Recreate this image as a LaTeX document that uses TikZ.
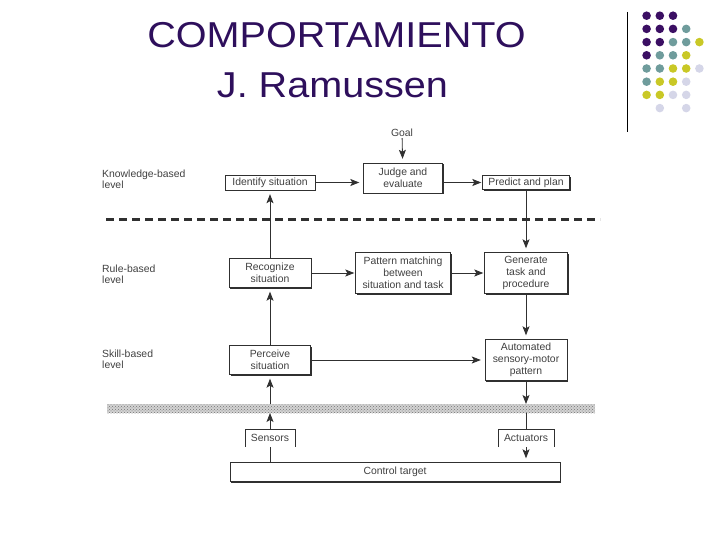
\documentclass[tikz,border=0pt]{standalone}
\usepackage{fontspec}
\setmainfont{Liberation Sans}
\usetikzlibrary{arrows.meta,shadows,patterns}

\definecolor{titlecol}{HTML}{2E0F5C}
\definecolor{dotP}{HTML}{3B0F63}
\definecolor{dotT}{HTML}{6F9C9C}
\definecolor{dotY}{HTML}{C9C826}
\definecolor{dotL}{HTML}{D5D6E8}
\definecolor{inkline}{HTML}{303030}
\definecolor{inktext}{HTML}{404040}

\tikzset{
  stage/.style={draw=inkline, fill=white, align=center, inner sep=1pt,
    text=inktext, font=\fontsize{10.4}{12}\selectfont,
    drop shadow={shadow xshift=1.3pt, shadow yshift=-1.3pt, fill=inkline, opacity=1}},
  openbox/.style={align=center, inner sep=1pt, text=inktext,
    font=\fontsize{10.4}{12}\selectfont},
  levellabel/.style={anchor=west, align=left, inner sep=0pt, text=inktext,
    font=\fontsize{10.4}{11}\selectfont},
  flow/.style={draw=inkline, line width=0.8pt, shorten >=4pt},
  boxline/.style={draw=inkline, line width=0.6pt},
  titletext/.style={anchor=base, text=titlecol, inner sep=0pt,
    font=\fontsize{36}{40}\selectfont}
}

\begin{document}
\begin{tikzpicture}[x=1pt, y=-1pt, >={Stealth[length=9pt,width=7pt,inset=2pt]}]
\useasboundingbox (0,0) rectangle (720,540);

\node[titletext] (title) at (336.5,48) {\scalebox{1.1}[1]{COMPORTAMIENTO}};
\node[titletext] (author) at (332.5,98) {\scalebox{1.1}[1]{J. Ramussen}};

\draw[line width=1pt] (627,12) -- (627,132);
\foreach \i/\j/\k in {1/1/dotP, 2/1/dotP, 3/1/dotP,
    1/2/dotP, 2/2/dotP, 3/2/dotP, 4/2/dotT,
    1/3/dotP, 2/3/dotP, 3/3/dotT, 4/3/dotT, 5/3/dotY,
    1/4/dotP, 2/4/dotT, 3/4/dotT, 4/4/dotY,
    1/5/dotT, 2/5/dotT, 3/5/dotY, 4/5/dotY, 5/5/dotL,
    1/6/dotT, 2/6/dotY, 3/6/dotY, 4/6/dotL,
    1/7/dotY, 2/7/dotY, 3/7/dotL, 4/7/dotL,
    2/8/dotL, 4/8/dotL}
  \fill[\k] (633.4+13.2*\i, 2.5+13.2*\j) circle (4.3pt);

\node[levellabel] (knowledge) at (102,178.8) {Knowledge-based\\level};
\node[levellabel] (rule) at (102,273.8) {Rule-based\\level};
\node[levellabel] (skill) at (102,359.4) {Skill-based\\level};

\node[openbox] (goal) at (402,133) {Goal};
\node[stage, minimum width=90pt, minimum height=15pt] (identify) at (270,182.5) {Identify situation};
\node[stage, minimum width=79pt, minimum height=30pt] (judge) at (403,178) {Judge and\\evaluate};
\node[stage, minimum width=87pt, minimum height=14pt] (predict) at (526,182.5) {Predict and plan};

\node[stage, minimum width=82pt, minimum height=29pt] (recognize) at (270,273) {Recognize\\situation};
\node[stage, minimum width=95pt, minimum height=41pt] (pattern) at (403,273) {Pattern matching\\between\\situation and task};
\node[stage, minimum width=83pt, minimum height=41pt] (generate) at (526,273) {Generate\\task and\\procedure};

\node[stage, minimum width=81pt, minimum height=29pt] (perceive) at (270,360) {Perceive\\situation};
\node[stage, minimum width=82pt, minimum height=41pt] (automated) at (526,360) {Automated\\sensory-motor\\pattern};

\node[openbox, minimum width=50pt, minimum height=17pt] (sensors) at (270,438) {Sensors};
\node[openbox, minimum width=56pt, minimum height=18pt] (actuators) at (526,438) {Actuators};
\node[stage, minimum width=330pt, minimum height=19pt] (target) at (395,472) {Control target};

\draw[boxline] (sensors.south west) |- (sensors.north east) -- (sensors.south east);
\draw[boxline] (actuators.south west) |- (actuators.north east) -- (actuators.south east);

\draw[draw=inkline, line width=2.2pt, dash pattern=on 8pt off 5pt] (106,219.5) -- (600,219.5);
\fill[gray!35] (107,404) rectangle (595,413);
\fill[pattern=crosshatch dots, pattern color=gray!90!black] (107,404) rectangle (595,413);

\coordinate (bandLN) at (270,404);
\coordinate (bandLS) at (270,413);
\coordinate (bandRN) at (526,404);
\coordinate (bandRS) at (526,413);

\draw[flow, ->] (goal) -- (judge);
\draw[flow, ->] (identify.east) -- (identify.east -| judge.west);
\draw[flow, ->, shorten >=1pt] (predict.west -| judge.east) -- (predict.west);
\draw[flow, ->] (predict) -- (generate);
\draw[flow, ->] (recognize) -- (identify);
\draw[flow, ->, shorten >=1pt] (recognize) -- (pattern);
\draw[flow, ->, shorten >=1pt] (pattern) -- (generate);
\draw[flow, ->] (generate) -- (automated);
\draw[flow, ->] (perceive) -- (recognize);
\draw[flow, ->] (perceive) -- (automated);
\draw[flow, ->] (bandLN) -- (perceive);
\draw[flow, ->, shorten >=0pt] (sensors) -- (bandLS);
\draw[flow, shorten >=0pt] (target.north -| sensors) -- (sensors.south);
\draw[flow, ->, shorten >=0pt] (automated) -- (bandRN);
\draw[flow, shorten >=0pt] (bandRS) -- (actuators);
\draw[flow, ->] (actuators) -- (target.north -| actuators);
\end{tikzpicture}
\end{document}
